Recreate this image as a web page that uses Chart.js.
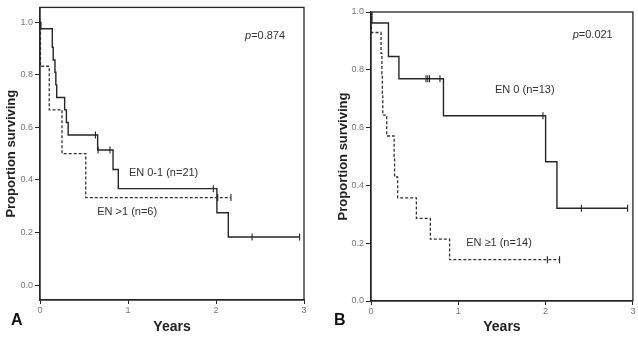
<!DOCTYPE html>
<html>
<head>
<meta charset="utf-8">
<script src="https://cdn.jsdelivr.net/npm/chart.js@4.4.1/dist/chart.umd.min.js"></script>
<style>
  body { margin: 0; background: #fff; }
  #wrap { position: relative; width: 638px; height: 340px; font-family: "Liberation Sans", Arial, sans-serif; }
  .box { position: absolute; top: 0; height: 340px; }
  .tag { position: absolute; font-weight: bold; font-size: 16px; color: #111; }
</style>
</head>
<body>
<div id="wrap">
  <div class="box" style="left:0;width:318px"><canvas id="chartA"></canvas></div>
  <div class="box" style="left:318px;width:320px"><canvas id="chartB"></canvas></div>
  <div class="tag" style="left:11px;top:311px">A</div>
  <div class="tag" style="left:334px;top:311px">B</div>
</div>
<script>
// tick labels
const xTicks = [0, 1, 2, 3];
const yTicks = [0, 0.2, 0.4, 0.6, 0.8, 1.0];

// Panel A: EN 0-1 (n=21), solid
const aSolidT = [0, 0.01, 0.14, 0.15, 0.17, 0.18, 0.19, 0.28, 0.30, 0.32, 0.655, 0.83, 0.89, 2.01, 2.14, 2.95];
const aSolidS = [1.0, 0.976, 0.905, 0.857, 0.81, 0.762, 0.714, 0.667, 0.619, 0.571, 0.514, 0.44, 0.367, 0.275, 0.183, 0.183];
const aSolidCensT = [0.63, 0.66, 0.795, 1.97, 2.41, 2.95];
const aSolidCensS = [0.571, 0.514, 0.514, 0.367, 0.183, 0.183];
// Panel A: EN >1 (n=6), dashed
const aDashT = [0, 0.005, 0.105, 0.25, 0.52, 2.17];
const aDashS = [1.0, 0.833, 0.667, 0.5, 0.333, 0.333];
const aDashCensT = [2.02, 2.17];
const aDashCensS = [0.333, 0.333];

// Panel B: EN 0 (n=13), solid
const bSolidT = [0, 0.01, 0.2, 0.32, 0.83, 2.0, 2.13, 2.94];
const bSolidS = [1.0, 0.962, 0.846, 0.769, 0.641, 0.482, 0.321, 0.321];
const bSolidCensT = [0.63, 0.65, 0.67, 0.79, 1.97, 2.41, 2.94];
const bSolidCensS = [0.769, 0.769, 0.769, 0.769, 0.641, 0.321, 0.321];
// Panel B: EN >=1 (n=14), dashed
const bDashT = [0, 0.005, 0.115, 0.125, 0.13, 0.135, 0.18, 0.265, 0.27, 0.305, 0.52, 0.68, 0.9, 2.16];
const bDashS = [1.0, 0.929, 0.857, 0.786, 0.714, 0.643, 0.571, 0.5, 0.429, 0.357, 0.286, 0.214, 0.143, 0.143];
const bDashCensT = [2.02, 2.16];
const bDashCensS = [0.143, 0.143];

const FONT = "'Liberation Sans', Arial, sans-serif";
const INK = "#262626";

const toXY = (t, s) => t.map((v, i) => ({ x: v, y: s[i] }));

// frame round the plot area and the in-plot notes
const framePlugin = {
  id: "frame",
  afterDraw(chart, args, opts) {
    const { ctx, chartArea: a, scales } = chart;
    ctx.save();
    ctx.strokeStyle = INK;
    ctx.lineWidth = 1.3;
    ctx.strokeRect(a.left, a.top, a.right - a.left, a.bottom - a.top);
    ctx.fillStyle = "#333";
    ctx.textBaseline = "middle";
    (opts.notes || []).forEach((n) => {
      const px = scales.x.getPixelForValue(n.x);
      const py = scales.y.getPixelForValue(n.y);
      if (n.p) {
        ctx.font = "italic 11px " + FONT;
        ctx.fillText("p", px, py);
        const w = ctx.measureText("p").width;
        ctx.font = "11px " + FONT;
        ctx.fillText(n.text, px + w, py);
      } else {
        ctx.font = "11px " + FONT;
        ctx.fillText(n.text, px, py);
      }
    });
    ctx.restore();
  },
};

function makeChart(id, cfg) {
  const ctx = document.getElementById(id).getContext("2d");
  return new Chart(ctx, {
    type: "line",
    data: {
      datasets: [
        {
          data: toXY(cfg.solidT, cfg.solidS),
          borderColor: INK,
          borderWidth: 1.4,
          stepped: "before",
          pointRadius: 0,
          fill: false,
        },
        {
          data: toXY(cfg.dashT, cfg.dashS),
          borderColor: "#333",
          borderWidth: 1.3,
          borderDash: [3, 2],
          stepped: "before",
          pointRadius: 0,
          fill: false,
        },
        {
          type: "scatter",
          data: toXY(cfg.solidCensT, cfg.solidCensS).concat(toXY(cfg.dashCensT, cfg.dashCensS)),
          pointStyle: "line",
          rotation: 90,
          pointRadius: 3.5,
          borderColor: INK,
          borderWidth: 1.1,
        },
      ],
    },
    options: {
      responsive: true,
      maintainAspectRatio: false,
      animation: false,
      layout: { padding: { top: cfg.top, right: cfg.right, left: 0, bottom: 0 } },
      plugins: {
        legend: { display: false },
        tooltip: { enabled: false },
        frame: { notes: cfg.notes },
      },
      scales: {
        x: {
          type: "linear",
          min: 0,
          max: 3,
          afterBuildTicks: (s) => { s.ticks = xTicks.map((v) => ({ value: v })); },
          afterFit: (s) => { s.height = cfg.xH; },
          grid: { display: true, drawOnChartArea: false, drawTicks: true, tickLength: 4, color: INK },
          border: { display: true, color: INK, width: 1.3 },
          ticks: { color: "#777", font: { size: 9, family: FONT }, padding: 1, callback: (v) => String(v) },
          title: { display: true, text: "Years", color: "#222", font: { size: 14, weight: "bold", family: FONT }, padding: { top: 0, bottom: 4 } },
        },
        y: {
          type: "linear",
          min: cfg.yMin,
          max: cfg.yMax,
          afterBuildTicks: (s) => { s.ticks = yTicks.map((v) => ({ value: v })); },
          afterFit: (s) => { s.width = cfg.yW; },
          grid: { display: true, drawOnChartArea: false, drawTicks: true, tickLength: 5, color: INK },
          border: { display: true, color: INK, width: 1.3 },
          ticks: { color: "#777", font: { size: 9, family: FONT }, padding: 2, callback: (v) => v.toFixed(1) },
          title: { display: true, text: "Proportion surviving", color: "#222", font: { size: 13, weight: "bold", family: FONT }, padding: { top: cfg.titlePad, bottom: 0 } },
        },
      },
    },
    plugins: [framePlugin],
  });
}

makeChart("chartA", {
  solidT: aSolidT, solidS: aSolidS, solidCensT: aSolidCensT, solidCensS: aSolidCensS,
  dashT: aDashT, dashS: aDashS, dashCensT: aDashCensT, dashCensS: aDashCensS,
  yMin: -0.057, yMax: 1.057, top: 7, right: 14, xH: 40, yW: 40, titlePad: 4,
  notes: [
    { text: "=0.874", x: 2.33, y: 0.947, p: true },
    { text: "EN 0-1 (n=21)", x: 1.01, y: 0.428 },
    { text: "EN >1 (n=6)", x: 0.65, y: 0.277 },
  ],
});

makeChart("chartB", {
  solidT: bSolidT, solidS: bSolidS, solidCensT: bSolidCensT, solidCensS: bSolidCensS,
  dashT: bDashT, dashS: bDashS, dashCensT: bDashCensT, dashCensS: bDashCensS,
  yMin: 0, yMax: 1.0, top: 12, right: 5, xH: 39, yW: 53, titlePad: 18,
  notes: [
    { text: "=0.021", x: 2.31, y: 0.92, p: true },
    { text: "EN 0 (n=13)", x: 1.42, y: 0.73 },
    { text: "EN \u22651 (n=14)", x: 1.09, y: 0.2 },
  ],
});
</script>
</body>
</html>
